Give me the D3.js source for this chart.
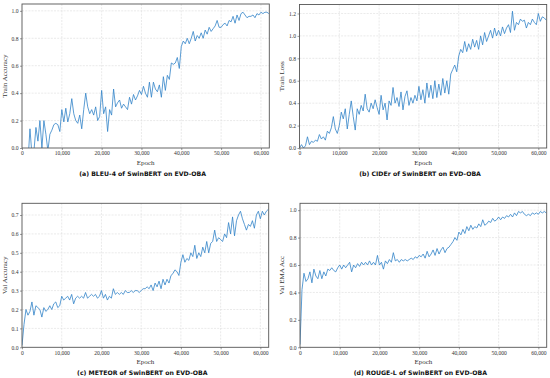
<!DOCTYPE html>
<html><head><meta charset="utf-8">
<script src="https://cdn.jsdelivr.net/npm/d3@7"></script>
<style>html,body{margin:0;padding:0;background:#fff;}svg{display:block;}</style>
</head><body>
<svg id="chart" width="550" height="378"></svg>
<script>
// Epochs sampled every 500 steps (0 .. 62000)
const epochs = d3.range(0, 62001, 500);

const bleu4 = [
  -0.2, -0.2, -0.15, -0.1, 0.14, -0.05, -0.02, 0.15, 0.05, 0.2,
  0.0, 0.2, 0.1, -0.02, 0.1, 0.13, 0.17, 0.18, 0.17, 0.12,
  0.28, 0.19, 0.29, 0.19, 0.25, 0.36, 0.25, 0.2, 0.18, 0.24,
  0.14, 0.28, 0.4, 0.3, 0.25, 0.28, 0.24, 0.3, 0.2, 0.23,
  0.42, 0.25, 0.3, 0.12, 0.28, 0.24, 0.43, 0.3, 0.33, 0.35,
  0.29, 0.32, 0.3, 0.28, 0.37, 0.32, 0.39, 0.35, 0.38, 0.42,
  0.39, 0.45, 0.4, 0.37, 0.48, 0.37, 0.48, 0.43, 0.41, 0.46,
  0.37, 0.52, 0.42, 0.53, 0.5, 0.62, 0.61, 0.62, 0.66, 0.58,
  0.74, 0.78, 0.76, 0.8, 0.76, 0.8, 0.85, 0.78, 0.82, 0.8,
  0.84, 0.8, 0.86, 0.83, 0.88, 0.85, 0.87, 0.89, 0.93, 0.88,
  0.88, 0.9, 0.91, 0.89, 0.93, 0.92, 0.96, 0.91, 0.97, 0.93,
  0.98, 0.99, 0.97, 0.95, 0.96, 0.96, 0.97, 0.95, 0.98, 0.97,
  0.99, 0.98, 0.99, 0.99, 0.98
];
const cider = [
  0.0, 0.03, 0.0, 0.02, 0.1, 0.03, 0.06, 0.05, 0.07, 0.06,
  0.12, 0.08, 0.1, 0.07, 0.15, 0.13, 0.18, 0.28, 0.17, 0.13,
  0.2, 0.32, 0.26, 0.35, 0.17, 0.3, 0.42, 0.28, 0.16, 0.35,
  0.3, 0.38, 0.33, 0.48, 0.35, 0.32, 0.4, 0.35, 0.43, 0.36,
  0.3, 0.47, 0.34, 0.4, 0.25, 0.42, 0.38, 0.54, 0.4, 0.45,
  0.37, 0.5, 0.34, 0.46, 0.51, 0.38, 0.45, 0.4, 0.47, 0.42,
  0.55, 0.43, 0.52, 0.4, 0.58, 0.45, 0.56, 0.44, 0.6, 0.45,
  0.57, 0.47, 0.62, 0.49, 0.6, 0.48, 0.66, 0.7, 0.74, 0.68,
  0.82, 0.88, 0.85, 0.95, 0.86, 0.93, 0.88, 0.97, 0.9, 0.96,
  0.88, 1.0, 0.92, 1.03, 0.95, 1.0, 1.05, 0.98, 1.07, 1.0,
  1.05, 1.0, 1.08, 1.02, 1.07, 1.1, 1.03, 1.22, 1.05, 1.12,
  1.1, 1.15, 1.13, 1.14, 1.07, 1.12, 1.1, 1.15, 1.12, 1.1,
  1.2, 1.13, 1.17, 1.16, 1.14
];
const meteor = [
  0.01, 0.12, 0.2, 0.17, 0.19, 0.24, 0.17, 0.22, 0.21, 0.2,
  0.16, 0.21, 0.19, 0.2, 0.22, 0.2, 0.23, 0.24, 0.21, 0.22,
  0.27, 0.25, 0.26, 0.27, 0.25, 0.28, 0.23, 0.26, 0.27, 0.26,
  0.27, 0.26, 0.29, 0.26, 0.27, 0.28, 0.27, 0.28, 0.26, 0.27,
  0.3, 0.26, 0.28, 0.25, 0.27, 0.26, 0.31, 0.28, 0.29, 0.28,
  0.29, 0.28, 0.3, 0.29, 0.29, 0.3, 0.29, 0.3, 0.3, 0.29,
  0.3, 0.31, 0.31, 0.32, 0.31, 0.33, 0.3, 0.34, 0.32, 0.35,
  0.31, 0.36, 0.33, 0.36, 0.34, 0.38, 0.39, 0.41, 0.4, 0.38,
  0.45, 0.49, 0.45, 0.47, 0.46, 0.5, 0.48, 0.54, 0.47, 0.5,
  0.48, 0.53, 0.5, 0.56, 0.5, 0.55, 0.56, 0.62, 0.56, 0.58,
  0.57, 0.56, 0.6, 0.58, 0.66, 0.6, 0.69, 0.59, 0.67, 0.7,
  0.72, 0.68, 0.65, 0.62, 0.65, 0.64, 0.67, 0.63, 0.7, 0.72,
  0.68, 0.72, 0.7, 0.72, 0.73
];
const rougeL = [
  0.02, 0.42, 0.54, 0.48, 0.5, 0.55, 0.47, 0.57, 0.52, 0.5,
  0.56, 0.5, 0.55, 0.52, 0.57, 0.56, 0.58, 0.56, 0.55, 0.58,
  0.6, 0.57, 0.6, 0.58, 0.6, 0.62, 0.55, 0.6, 0.58, 0.61,
  0.59, 0.62, 0.6, 0.62, 0.6, 0.63, 0.6, 0.62, 0.6, 0.67,
  0.6, 0.62, 0.57, 0.63, 0.61, 0.64, 0.62, 0.69, 0.63, 0.64,
  0.62, 0.64, 0.63, 0.64, 0.63, 0.64, 0.65, 0.64, 0.66, 0.65,
  0.67, 0.66, 0.68, 0.65, 0.7, 0.66, 0.68, 0.71, 0.67, 0.72,
  0.68, 0.71, 0.73, 0.69, 0.72, 0.73, 0.75, 0.77, 0.8, 0.78,
  0.84, 0.82, 0.86, 0.83, 0.88, 0.85, 0.89, 0.86, 0.88, 0.87,
  0.9, 0.88, 0.93, 0.89, 0.9, 0.92, 0.91, 0.94, 0.92, 0.93,
  0.95, 0.93, 0.95, 0.94, 0.96, 0.95, 0.97, 0.95, 0.98, 0.96,
  0.99, 0.98, 0.99, 0.97, 0.96, 0.97, 0.96, 0.98, 0.97, 0.98,
  0.97, 0.99, 0.98, 0.99, 0.98
];

const xTicks = [0, 10000, 20000, 30000, 40000, 50000, 60000];
const yTicksA = [0, 0.2, 0.4, 0.6, 0.8, 1.0];
const yTicksB = [0, 0.2, 0.4, 0.6, 0.8, 1.0, 1.2];
const yTicksC = [0, 0.1, 0.2, 0.3, 0.4, 0.5, 0.6, 0.7];
const yTicksD = [0, 0.2, 0.4, 0.6, 0.8, 1.0];

const yLabels = ["Train Accuracy", "Train Loss", "Val Accuracy", "Val EMA Acc"];
const captions = [
  "(a) BLEU-4 of SwinBERT on EVD-OBA",
  "(b) CIDEr of SwinBERT on EVD-OBA",
  "(c) METEOR of SwinBERT on EVD-OBA",
  "(d) ROUGE-L of SwinBERT on EVD-OBA"
];

const panels = [
  {values: bleu4,  yTicks: yTicksA, yMax: 1.05, box: {l: 22, r: 269.3, t: 4, b: 148}, ylx: 7, capY: 176},
  {values: cider,  yTicks: yTicksB, yMax: 1.28, box: {l: 299.5, r: 546.7, t: 4.5, b: 148}, ylx: 283.5, capY: 176},
  {values: meteor, yTicks: yTicksC, yMax: 0.762, box: {l: 22, r: 268.7, t: 203.3, b: 347.3}, ylx: 7, capY: 375},
  {values: rougeL, yTicks: yTicksD, yMax: 1.05, box: {l: 300, r: 546.7, t: 203.3, b: 347.3}, ylx: 283.5, capY: 375}
];

const svg = d3.select("#chart");
const fmt = d3.format(",");

panels.forEach((p, i) => {
  const {l, r, t, b} = p.box;
  const x = d3.scaleLinear().domain([0, 62100]).range([l, r]);
  const y = d3.scaleLinear().domain([0, p.yMax]).range([b, t]);
  const g = svg.append("g");

  const clipId = "clip" + i;
  g.append("clipPath").attr("id", clipId).append("rect")
    .attr("x", l).attr("y", t).attr("width", r - l).attr("height", b - t);

  // grid
  g.append("g").selectAll("line").data(xTicks.filter(d => d > 0)).join("line")
    .attr("x1", d => x(d)).attr("x2", d => x(d)).attr("y1", t).attr("y2", b)
    .attr("stroke", "#dcdcdc").attr("stroke-width", 0.6).attr("stroke-dasharray", "2,1.2");
  g.append("g").selectAll("line").data(p.yTicks.filter(d => d > 0)).join("line")
    .attr("x1", l).attr("x2", r).attr("y1", d => y(d)).attr("y2", d => y(d))
    .attr("stroke", "#dcdcdc").attr("stroke-width", 0.6).attr("stroke-dasharray", "2,1.2");

  // line
  const line = d3.line().x((d, j) => x(epochs[j])).y(d => y(d));
  g.append("path").datum(p.values)
    .attr("clip-path", `url(#${clipId})`)
    .attr("fill", "none").attr("stroke", "#3183c8").attr("stroke-width", 0.8)
    .attr("stroke-linejoin", "round")
    .attr("d", line);

  // axes
  const xAxis = d3.axisBottom(x).tickValues(xTicks).tickFormat(fmt).tickSize(2).tickPadding(1.5);
  const yAxis = d3.axisLeft(y).tickValues(p.yTicks).tickFormat(d3.format(".1f")).tickSize(2).tickPadding(1.5);
  const gx = g.append("g").attr("transform", `translate(0,${b})`).call(xAxis);
  const gy = g.append("g").attr("transform", `translate(${l},0)`).call(yAxis);
  [gx, gy].forEach(ax => {
    ax.select(".domain").remove();
    ax.selectAll(".tick line").attr("stroke", "#555").attr("stroke-width", 0.6);
    ax.selectAll(".tick text").attr("fill", "#333")
      .style("font-family", "'Liberation Serif', 'Times New Roman', serif").style("font-size", "5.6px");
  });

  // frame
  g.append("rect").attr("x", l).attr("y", t).attr("width", r - l).attr("height", b - t)
    .attr("fill", "none").attr("stroke", "#555").attr("stroke-width", 0.9);

  // axis titles
  g.append("text").attr("x", (l + r) / 2).attr("y", b + 16.5).attr("text-anchor", "middle")
    .style("font-family", "'Liberation Serif', 'Times New Roman', serif").style("font-size", "7px")
    .attr("fill", "#333").text("Epoch");
  g.append("text").attr("transform", `translate(${p.ylx},${(t + b) / 2}) rotate(-90)`)
    .attr("text-anchor", "middle")
    .style("font-family", "'Liberation Serif', 'Times New Roman', serif").style("font-size", "7px")
    .attr("fill", "#333").text(yLabels[i]);

  // caption
  g.append("text").attr("x", (l + r) / 2 - 3).attr("y", p.capY).attr("text-anchor", "middle")
    .style("font-family", "'DejaVu Sans', Verdana, sans-serif").style("font-size", "6.2px")
    .style("font-weight", "bold").attr("fill", "#111").text(captions[i]);
});
</script>
</body></html>
